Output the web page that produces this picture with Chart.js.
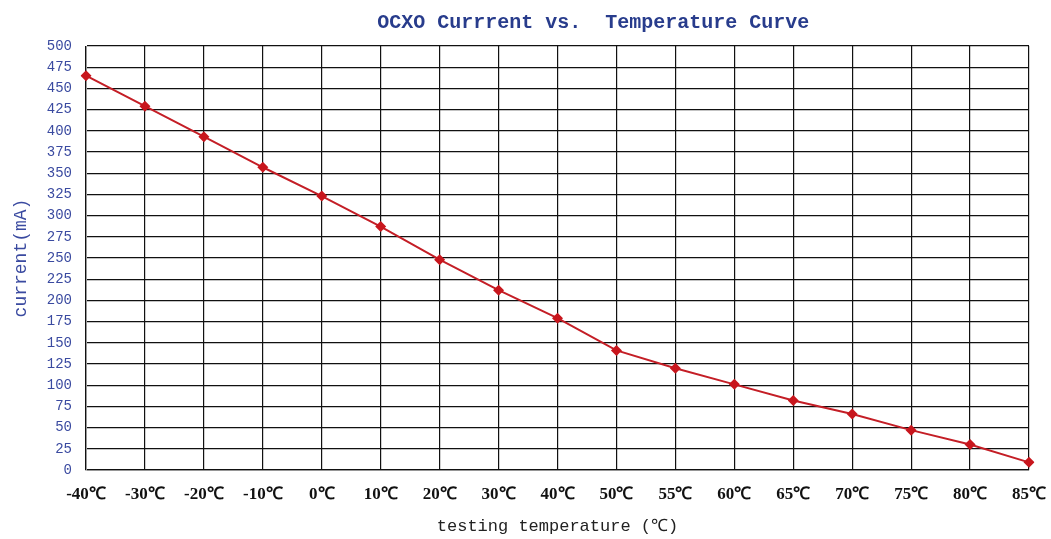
<!DOCTYPE html>
<html>
<head>
<meta charset="utf-8">
<script src="https://cdn.jsdelivr.net/npm/chart.js@4"></script>
<style>
html,body{margin:0;padding:0;background:#fff;}
#wrap{width:1051px;height:539px;}
</style>
</head>
<body>
<div id="wrap"><canvas id="c" width="1051" height="539"></canvas></div>
<script>
const categories = ['-40℃','-30℃','-20℃','-10℃','0℃','10℃','20℃','30℃','40℃','50℃','55℃','60℃','65℃','70℃','75℃','80℃','85℃'];
const currentValues = [465, 429, 393, 357, 323, 287, 248, 212, 179, 141, 120, 101, 82, 66, 47, 30, 9];
const titleText = 'OCXO Currrent vs.  Temperature Curve';
const xTitle = 'testing temperature (℃)';
const yTitle = 'current(mA)';

const offsetTitle = {
  id: 'offsetTitle',
  afterDraw(chart) {
    const ctx = chart.ctx;
    const a = chart.chartArea;
    ctx.save();
    ctx.font = 'bold 20px "Liberation Mono"';
    ctx.fillStyle = '#283c8c';
    ctx.textAlign = 'center';
    ctx.textBaseline = 'middle';
    ctx.fillText(titleText, a.left + (a.right - a.left) * 0.538, 23);
    ctx.restore();
  }
};

new Chart(document.getElementById('c'), {
  type: 'line',
  data: {
    labels: categories,
    datasets: [{
      label: yTitle,
      data: currentValues,
      borderColor: '#c41e26',
      backgroundColor: '#c8161d',
      borderWidth: 2,
      pointStyle: 'rectRot',
      pointRadius: 5.5,
      pointBorderWidth: 0,
      tension: 0
    }]
  },
  plugins: [offsetTitle],
  options: {
    responsive: false,
    animation: false,
    layout: { padding: { left: 0, right: 22, top: 46, bottom: 0 } },
    plugins: {
      legend: { display: false },
      tooltip: { enabled: false },
      title: { display: false }
    },
    scales: {
      x: {
        type: 'category',
        offset: false,
        afterFit: s => { s.height = 69; s.paddingLeft = 0; s.paddingRight = 0; },
        grid: { color: '#111', lineWidth: 1.2, drawTicks: false },
        border: { color: '#111', width: 1.2 },
        ticks: {
          color: '#111',
          padding: 14,
          maxRotation: 0,
          autoSkip: false,
          font: { family: 'Liberation Serif', size: 17, weight: 'bold' }
        },
        title: {
          display: true,
          text: xTitle,
          color: '#222',
          font: { family: 'Liberation Mono', size: 17 },
          padding: { top: 0, bottom: 2 }
        }
      },
      y: {
        min: 0,
        max: 500,
        afterFit: s => { s.width = 86; s.paddingTop = 0; s.paddingBottom = 0; },
        grid: { color: '#111', lineWidth: 1.2, drawTicks: false },
        border: { color: '#999', width: 1 },
        ticks: {
          stepSize: 25,
          color: '#3a4aa0',
          padding: 14,
          font: { family: 'Liberation Mono', size: 14 }
        },
        title: {
          display: true,
          text: yTitle,
          color: '#3a4aa0',
          font: { family: 'Liberation Mono', size: 18 },
          padding: { top: 10, bottom: 0 }
        }
      }
    }
  }
});
</script>
</body>
</html>
